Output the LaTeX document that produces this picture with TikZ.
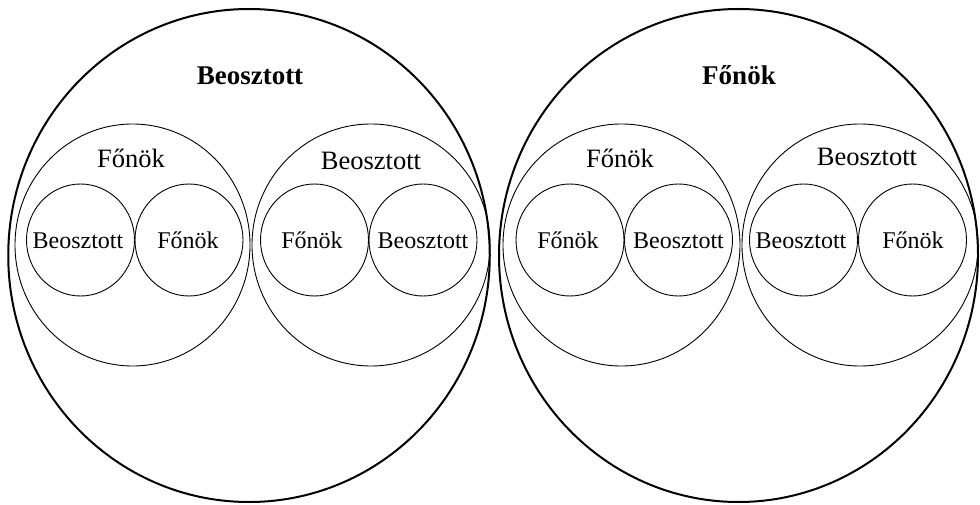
\documentclass[tikz,border=0pt]{standalone}
\usepackage{fontspec}
\setmainfont{Liberation Serif}
\usetikzlibrary{shapes.geometric}
\begin{document}
\begin{tikzpicture}[x=1pt,y=-1pt,
  bigring/.style={ellipse,draw,line width=2pt,inner sep=0pt},
  midring/.style={ellipse,draw,line width=0.9pt,inner sep=0pt,minimum height=242pt},
  smallring/.style={ellipse,draw,line width=0.9pt,inner sep=0pt,minimum width=108pt,minimum height=112pt},
  toplabel/.style={anchor=base,inner sep=0pt,font=\fontsize{27}{32}\selectfont\bfseries},
  midlabel/.style={anchor=base,inner sep=0pt,font=\fontsize{26.5}{32}\selectfont},
  smalllabel/.style={anchor=base,inner sep=0pt,font=\fontsize{24}{28}\selectfont}]
\useasboundingbox (0,0) rectangle (980,505);

% outer rings
\node[bigring,minimum width=481.5pt,minimum height=493pt] (L) at (249,255.5) {};
\node[bigring,minimum width=479pt,minimum height=493pt] (R) at (738.5,255.5) {};

% middle rings
\node[midring,minimum width=235pt] (L1) at (132.5,245) {};
\node[midring,minimum width=238pt] (L2) at (371,245) {};
\node[midring,minimum width=237pt] (R1) at (621.5,245) {};
\node[midring,minimum width=236pt] (R2) at (860,245) {};

% inner rings
\node[smallring] (L1a) at (80.5,240) {};
\node[smallring] (L1b) at (189,240) {};
\node[smallring] (L2a) at (314.5,240) {};
\node[smallring] (L2b) at (423,240) {};
\node[smallring] (R1a) at (570,240) {};
\node[smallring] (R1b) at (678.5,240) {};
\node[smallring] (R2a) at (803.5,240) {};
\node[smallring] (R2b) at (912.5,240) {};

% labels
\node[toplabel] (tL) at (250,85) {Beosztott};
\node[toplabel] (tR) at (739,85) {Főnök};

\node[midlabel] (mL1) at (131,168) {Főnök};
\node[midlabel] (mL2) at (371,170) {Beosztott};
\node[midlabel] (mR1) at (620,168) {Főnök};
\node[midlabel] (mR2) at (867,166) {Beosztott};

\node[smalllabel] (sL1a) at (78,248) {Beosztott};
\node[smalllabel] (sL1b) at (188,248) {Főnök};
\node[smalllabel] (sL2a) at (312,248) {Főnök};
\node[smalllabel] (sL2b) at (423,248) {Beosztott};
\node[smalllabel] (sR1a) at (568,248) {Főnök};
\node[smalllabel] (sR1b) at (678.5,248) {Beosztott};
\node[smalllabel] (sR2a) at (801,248) {Beosztott};
\node[smalllabel] (sR2b) at (913,248) {Főnök};
\end{tikzpicture}
\end{document}
